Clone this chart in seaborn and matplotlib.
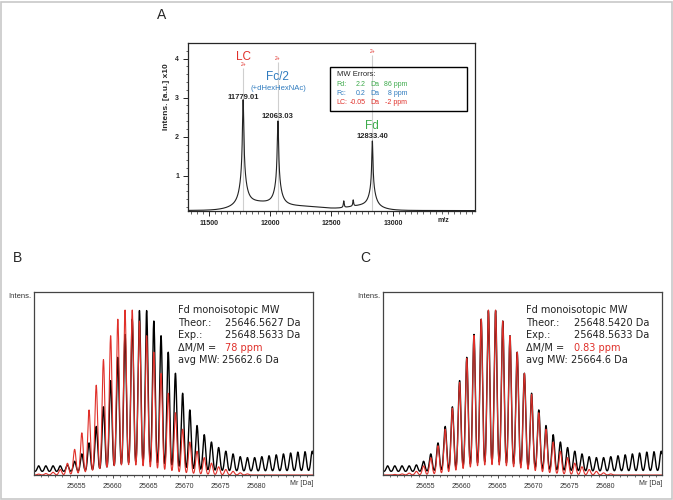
import numpy as np
import seaborn as sns
import matplotlib.pyplot as plt
from matplotlib.patches import Rectangle
from matplotlib.ticker import MultipleLocator

# ---- panel A: intact spectrum, peaks (m/z, intensity x10^4)
peak_mz = [11779.01, 12063.03, 12833.40, 12600.0, 12677.0]
peak_height = [1.9, 1.55, 1.2, 0.17, 0.16]
peak_hwhm = [7, 7, 6, 4, 4]
base_mz = [11779.01, 12063.03, 12833.40]
base_height = [0.8, 0.6, 0.5]
base_hwhm = [30, 30, 30]
hump_mz = [11880, 12250, 12750]
hump_height = [0.16, 0.10, 0.10]
hump_sigma = [140, 200, 120]
floor_a = 0.11

species = ["LC", "Fc/2", "Fd"]
species_mz = [11779.01, 12063.03, 12833.40]
species_mass = ["11779.01", "12063.03", "12833.40"]
charge_top = [3.75, 3.91, 4.09]

err_rows = ["Fd:", "Fc:", "LC:"]
err_da = ["2.2", "0.2", "-0.05"]
err_ppm = ["86 ppm", "8 ppm", "-2 ppm"]

# ---- panels B/C: isotope envelopes of Fd (relative intensity)
iso_mass = 25648.7 + np.arange(40)
exp_int = [0.05, 0.05, 0.05, 0.05, 0.05, 0.055, 0.075, 0.115, 0.175, 0.265,
           0.372, 0.515, 0.642, 0.767, 0.85, 0.897, 0.897, 0.84, 0.76, 0.67,
           0.555, 0.446, 0.355, 0.27, 0.22, 0.18, 0.15, 0.13, 0.115, 0.10,
           0.095, 0.095, 0.10, 0.105, 0.11, 0.115, 0.12, 0.125, 0.127, 0.13]
theo_b = [0, 0.005, 0.008, 0.015, 0.03, 0.064, 0.14, 0.23, 0.355, 0.49,
          0.63, 0.76, 0.85, 0.90, 0.90, 0.84, 0.76, 0.67, 0.555, 0.446,
          0.34, 0.25, 0.18, 0.13, 0.095, 0.065, 0.045, 0.03, 0.02, 0.012,
          0.006, 0, 0, 0, 0, 0, 0, 0, 0, 0]
theo_c = [0, 0, 0.003, 0.006, 0.01, 0.02, 0.05, 0.095, 0.16, 0.25,
          0.365, 0.505, 0.637, 0.762, 0.85, 0.90, 0.90, 0.84, 0.76, 0.67,
          0.555, 0.44, 0.34, 0.25, 0.18, 0.13, 0.095, 0.065, 0.045, 0.03,
          0.02, 0.012, 0.006, 0, 0, 0, 0, 0, 0, 0]
info_b = ["25646.5627 Da", "25648.5633 Da", "78 ppm", "25662.6 Da"]
info_c = ["25648.5420 Da", "25648.5633 Da", "0.83 ppm", "25664.6 Da"]
floor_exp = 0.018

RED = "#e0302a"
BLUE = "#2f7bbf"
GREEN = "#3daa4b"

sns.set_style("ticks")
plt.rcParams["font.family"] = ["Liberation Sans", "DejaVu Sans"]
plt.rcParams["axes.linewidth"] = 0.9

fig = plt.figure(figsize=(6.73, 5.0), dpi=100)
fig.patches.append(Rectangle((0.001, 0.002), 0.997, 0.995, transform=fig.transFigure,
                             fill=False, edgecolor="#c8c8c8", lw=1.2))

# ---------------- panel A
ax = fig.add_axes([0.2793, 0.578, 0.4265, 0.3354])
mz = np.linspace(11329, 13671, 6000)
spec = np.full_like(mz, floor_a)
for c, h, w in zip(peak_mz, peak_height, peak_hwhm):
    spec += h / (1 + ((mz - c) / w) ** 2)
for c, h, w in zip(base_mz, base_height, base_hwhm):
    spec += h / (1 + ((mz - c) / w) ** 2)
for c, h, s in zip(hump_mz, hump_height, hump_sigma):
    spec += h * np.exp(-0.5 * ((mz - c) / s) ** 2)

ax.vlines(species_mz, 0, charge_top, color="#cfcfcf", lw=0.8, zorder=1)
sns.lineplot(x=mz, y=spec, ax=ax, color="#222222", lw=0.8, estimator=None, sort=False, zorder=2)
for x, top in zip(species_mz, charge_top):
    ax.text(x, top + 0.03, "2+", color=RED, fontsize=3.5, ha="center", va="bottom")

ax.text(species_mz[0], 4.04, species[0], color=RED, fontsize=8.5, ha="center", va="center")
ax.text(species_mz[1], 3.53, species[1], color=BLUE, fontsize=8.5, ha="center", va="center")
ax.text(species_mz[1], 3.24, "(+dHexHexNAc)", color=BLUE, fontsize=5.5, ha="center", va="center")
ax.text(species_mz[2], 2.27, species[2], color=GREEN, fontsize=8.5, ha="center", va="center")
for x, lab, y in zip(species_mz, species_mass, [3.0, 2.51, 2.0]):
    ax.text(x, y, lab, fontsize=5.5, fontweight="bold", ha="center", va="center")

ax.add_patch(Rectangle((0.495, 0.598), 0.476, 0.262, transform=ax.transAxes,
                       fill=False, edgecolor="black", lw=1.0))
ax.text(0.518, 0.811, "MW Errors:", transform=ax.transAxes, fontsize=5.5, va="center")
for row, da, ppm, col, y in zip(err_rows, err_da, err_ppm, [GREEN, BLUE, RED],
                                [0.756, 0.702, 0.648]):
    ax.text(0.518, y, row, transform=ax.transAxes, fontsize=5, color=col, va="center")
    ax.text(0.618, y, da, transform=ax.transAxes, fontsize=5, color=col, va="center",
            ha="right")
    ax.text(0.634, y, "Da", transform=ax.transAxes, fontsize=5, color=col, va="center")
    ax.text(0.764, y, ppm, transform=ax.transAxes, fontsize=5, color=col, va="center",
            ha="right")

ax.set_xlim(11329, 13671)
ax.set_ylim(0.1, 4.39)
ax.xaxis.set_major_locator(MultipleLocator(500))
ax.xaxis.set_minor_locator(MultipleLocator(50))
ax.yaxis.set_major_locator(MultipleLocator(1))
ax.yaxis.set_minor_locator(MultipleLocator(0.2))
ax.set_xticks([11500, 12000, 12500, 13000])
ax.set_yticks([1, 2, 3, 4])
ax.tick_params(which="major", length=3.5, width=0.7, labelsize=5, pad=3)
ax.tick_params(which="minor", length=1.8, width=0.5)
for lab in ax.get_xticklabels() + ax.get_yticklabels():
    lab.set_fontweight("bold")
ax.set_ylabel("Intens. [a.u.] x10", fontsize=6, fontweight="bold")
ax.yaxis.set_label_coords(-0.063, 0.68)
ax.text(0.889, -0.055, "m/z", transform=ax.transAxes, fontsize=5, fontweight="bold",
        ha="center", va="center")
fig.text(162 / 673, 1 - 15 / 500, "A", fontsize=10, ha="center", va="center")

# ---------------- panels B and C
grid = np.linspace(25649.1, 25687.8, 5000)


def envelope(heights, floor):
    y = np.full_like(grid, floor)
    for c, h in zip(iso_mass, heights):
        y += max(h - floor, 0) * np.exp(-0.5 * ((grid - c) / 0.19) ** 2)
    return y


for left, theo, info, letter, lx in [(0.051, theo_b, info_b, "B", 13),
                                      (0.5695, theo_c, info_c, "C", 360)]:
    axi = fig.add_axes([left, 0.05, 0.414, 0.3666])
    sns.lineplot(x=grid, y=envelope(exp_int, floor_exp), ax=axi, color="black",
                 lw=1.0, estimator=None, sort=False)
    sns.lineplot(x=grid, y=envelope(theo, 0.0), ax=axi, color=RED,
                 lw=0.8, estimator=None, sort=False)
    axi.set_xlim(25649.1, 25687.8)
    axi.set_ylim(0, 1)
    axi.set_yticks([])
    axi.set_xticks([25655, 25660, 25665, 25670, 25675, 25680])
    axi.xaxis.set_minor_locator(MultipleLocator(1))
    axi.tick_params(which="major", length=2.5, width=0.6, labelsize=5, pad=3, colors="#333333")
    axi.tick_params(which="minor", length=1.5, width=0.5, colors="#333333")
    for sp in axi.spines.values():
        sp.set_color("#444444")
    axi.text(1.0, -0.045, "Mr [Da]", transform=axi.transAxes, fontsize=5, ha="right",
             va="center", color="#333333")

    tkw = dict(transform=axi.transAxes, fontsize=7, va="center", color="#222222",
               family="DejaVu Sans")
    axi.text(0.514, 0.90, "Fd monoisotopic MW", **tkw)
    axi.text(0.514, 0.831, "Theor.:", **tkw)
    axi.text(0.685, 0.831, info[0], **tkw)
    axi.text(0.514, 0.766, "Exp.:", **tkw)
    axi.text(0.685, 0.766, info[1], **tkw)
    axi.text(0.514, 0.694, "\u0394M/M =", **tkw)
    axi.text(0.685, 0.694, info[2], **{**tkw, "color": RED})
    axi.text(0.514, 0.628, "avg MW:", **tkw)
    axi.text(0.672, 0.628, info[3], **tkw)

    fig.text(lx / 673, 1 - 258 / 500, letter, fontsize=10, ha="left", va="center")
    fig.text((lx - 5 if letter == "B" else lx - 3) / 673, 1 - 297 / 500, "Intens.",
             fontsize=5.5, ha="left", va="center", color="#333333")

plt.savefig("out.png", dpi=100)
